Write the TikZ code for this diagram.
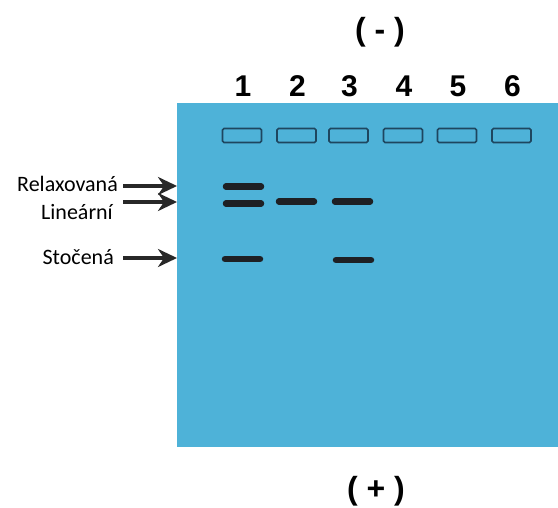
\documentclass[tikz,border=0pt]{standalone}
\usepackage{fontspec}
\setmainfont{Carlito}
\newfontfamily\numfont{Liberation Sans}
\usetikzlibrary{arrows.meta}
\definecolor{gel}{RGB}{78,178,216}
\definecolor{wellc}{RGB}{30,70,95}
\definecolor{bandc}{RGB}{30,32,36}
\definecolor{arrc}{RGB}{40,40,40}
\tikzset{
  wellbox/.style={draw=wellc, line width=1.6pt, fill=gel, rounded corners=1.5pt, minimum width=39pt, minimum height=14pt, inner sep=0pt},
  band/.style={bandc, line width=6.5pt, line cap=round},
  lanenum/.style={font=\numfont\bfseries\fontsize{30}{30}\selectfont, inner sep=0pt},
  pole/.style={font=\numfont\bfseries\fontsize{32}{32}\selectfont, inner sep=0pt},
  lbl/.style={font=\fontsize{22}{22}\selectfont, inner sep=0pt, anchor=east},
  arr/.style={draw=arrc, line width=3.4pt, -{Stealth[length=19pt,width=18pt,inset=6pt]}}
}
\begin{document}
\begin{tikzpicture}[x=1pt,y=-1pt]
\useasboundingbox (0,0) rectangle (558,508);
\fill[gel] (177,103) rectangle (558,447);
\node[pole] (minus) at (380,32) {( - )};
\node[pole] (plus) at (376,491) {( + )};
\foreach \i/\x in {1/242,2/296.5,3/348.5,4/403,5/457,6/511.5}{
  \node[lanenum] (n\i) at (\x+1,86) {\i};
  \node[wellbox] (w\i) at (\x,135.5) {};
}
% bands
\coordinate (b1a) at (226,186.5); \coordinate (b1b) at (261,186.5);
\coordinate (b2a) at (226,203.5); \coordinate (b2b) at (261,203.5);
\coordinate (b3a) at (225,259);   \coordinate (b3b) at (260,259);
\coordinate (b4a) at (279,201.5); \coordinate (b4b) at (314,201.5);
\coordinate (b5a) at (335,201.5); \coordinate (b5b) at (370,201.5);
\coordinate (b6a) at (336,260);   \coordinate (b6b) at (371,260);
\foreach \p in {1,...,6}{ \draw[band] (b\p a) -- (b\p b); }
% labels and arrows
\node[lbl] (relax) at (118,184) {Relaxovaná};
\node[lbl] (lin) at (113,212) {Lineární};
\node[lbl] (stoc) at (114,257) {Stočená};
\coordinate (s1) at (123,186); \coordinate (t1) at (177,186);
\coordinate (s2) at (123,202); \coordinate (t2) at (177,202);
\coordinate (s3) at (123,258); \coordinate (t3) at (177,258);
\draw[arr] (s1) -- (t1);
\draw[arr] (s2) -- (t2);
\draw[arr] (s3) -- (t3);
\end{tikzpicture}
\end{document}
